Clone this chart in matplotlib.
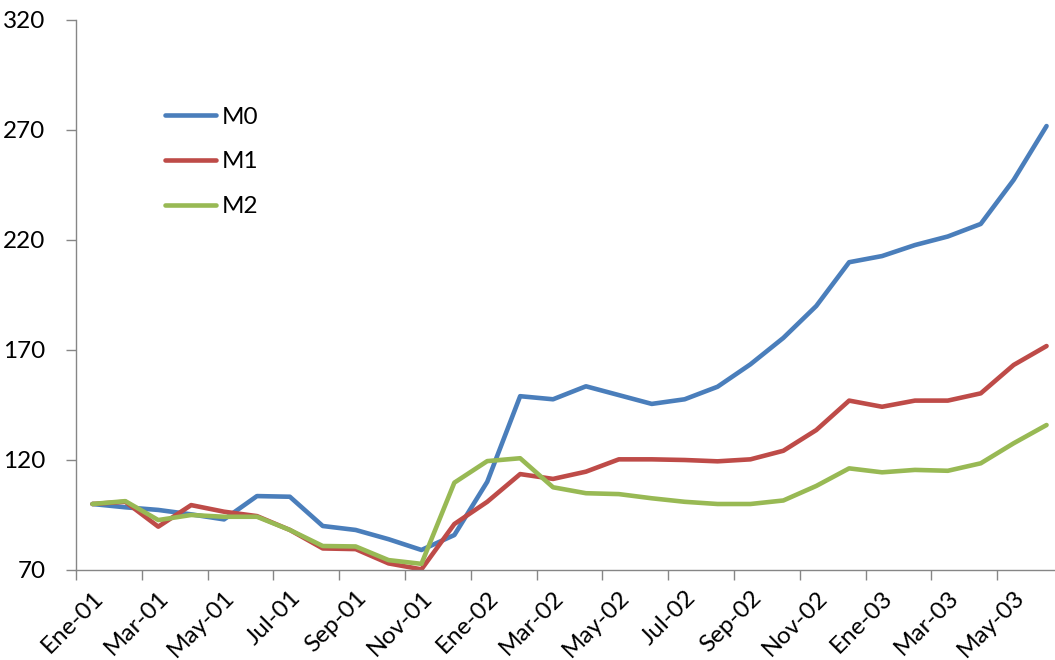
import matplotlib
matplotlib.use("Agg")
import matplotlib.pyplot as plt
from matplotlib.ticker import FixedLocator, NullFormatter, FixedFormatter

plt.rcParams['font.family'] = ['Lato', 'DejaVu Sans']

months = ["Ene-01", "Feb-01", "Mar-01", "Abr-01", "May-01", "Jun-01",
          "Jul-01", "Ago-01", "Sep-01", "Oct-01", "Nov-01", "Dic-01",
          "Ene-02", "Feb-02", "Mar-02", "Abr-02", "May-02", "Jun-02",
          "Jul-02", "Ago-02", "Sep-02", "Oct-02", "Nov-02", "Dic-02",
          "Ene-03", "Feb-03", "Mar-03", "Abr-03", "May-03", "Jun-03"]

m0 = [100, 98.5, 97.3, 95.3, 93.0, 103.6, 103.3, 90.0, 88.2, 84.0,
      79.1, 85.9, 110.1, 149.0, 147.6, 153.5, 149.5, 145.5, 147.6, 153.3,
      163.5, 175.5, 190.0, 209.9, 212.7, 217.7, 221.6, 227.3, 247.3, 271.8]
m1 = [100, 101.0, 89.7, 99.5, 96.5, 94.5, 88.2, 79.8, 79.5, 73.0,
      70.3, 90.9, 101.0, 113.6, 111.4, 114.7, 120.3, 120.3, 120.0, 119.4,
      120.3, 124.2, 133.6, 147.0, 144.2, 147.0, 147.0, 150.3, 163.2, 171.8]
m2 = [100, 101.3, 92.7, 95.0, 94.2, 94.2, 88.2, 80.9, 80.7, 74.5,
      72.8, 109.7, 119.5, 120.8, 107.6, 104.9, 104.5, 102.6, 101.0, 100.0,
      100.0, 101.6, 108.2, 116.2, 114.4, 115.5, 115.1, 118.5, 127.6, 135.9]

series = [("M0", m0, "#4A7EBB"), ("M1", m1, "#BE4B48"), ("M2", m2, "#98B954")]

W, H = 1055, 660
fig = plt.figure(figsize=(W / 100, H / 100), dpi=100)
ax = fig.add_axes([76 / W, 90 / H, 1 - 76 / W, 550 / H])

x = list(range(len(months)))
for name, vals, color in series:
    ax.plot(x, vals, color=color, lw=3.3, label=name,
            solid_joinstyle="round", solid_capstyle="round")

ax.set_ylim(70, 320)
ax.set_yticks([70, 120, 170, 220, 270, 320])
ax.set_xlim(-0.5, -0.5 + (W - 76) / 32.9)

axis_color = "#868686"
for side in ("top", "right"):
    ax.spines[side].set_visible(False)
for side in ("left", "bottom"):
    ax.spines[side].set_color(axis_color)
    ax.spines[side].set_linewidth(1.0)

fs = 17.5
# tick marks between categories, labels on every second month
ax.xaxis.set_major_locator(FixedLocator([i - 0.5 for i in range(0, len(months) + 1, 2)]))
ax.xaxis.set_major_formatter(NullFormatter())
label_pos = list(range(0, len(months), 2))
ax.xaxis.set_minor_locator(FixedLocator(label_pos))
ax.xaxis.set_minor_formatter(FixedFormatter([months[i] for i in label_pos]))
ax.tick_params(axis="x", which="major", length=7, width=1, color=axis_color, direction="out")
ax.tick_params(axis="x", which="minor", length=0, pad=12, labelsize=fs, labelcolor="#000000")
for lbl in ax.xaxis.get_minorticklabels():
    lbl.set_rotation(45)
    lbl.set_ha("right")
    lbl.set_va("top")
    lbl.set_rotation_mode("anchor")

ax.tick_params(axis="y", length=7, width=1, color=axis_color, direction="out",
               pad=15, labelsize=fs, labelcolor="#000000")

ax.legend(loc="center left", bbox_to_anchor=(0.091, 0.742), frameon=False,
          fontsize=fs, handlelength=2.1, handletextpad=0.25,
          labelspacing=0.98, borderpad=0, borderaxespad=0)

fig.savefig("out.png", dpi=100)
